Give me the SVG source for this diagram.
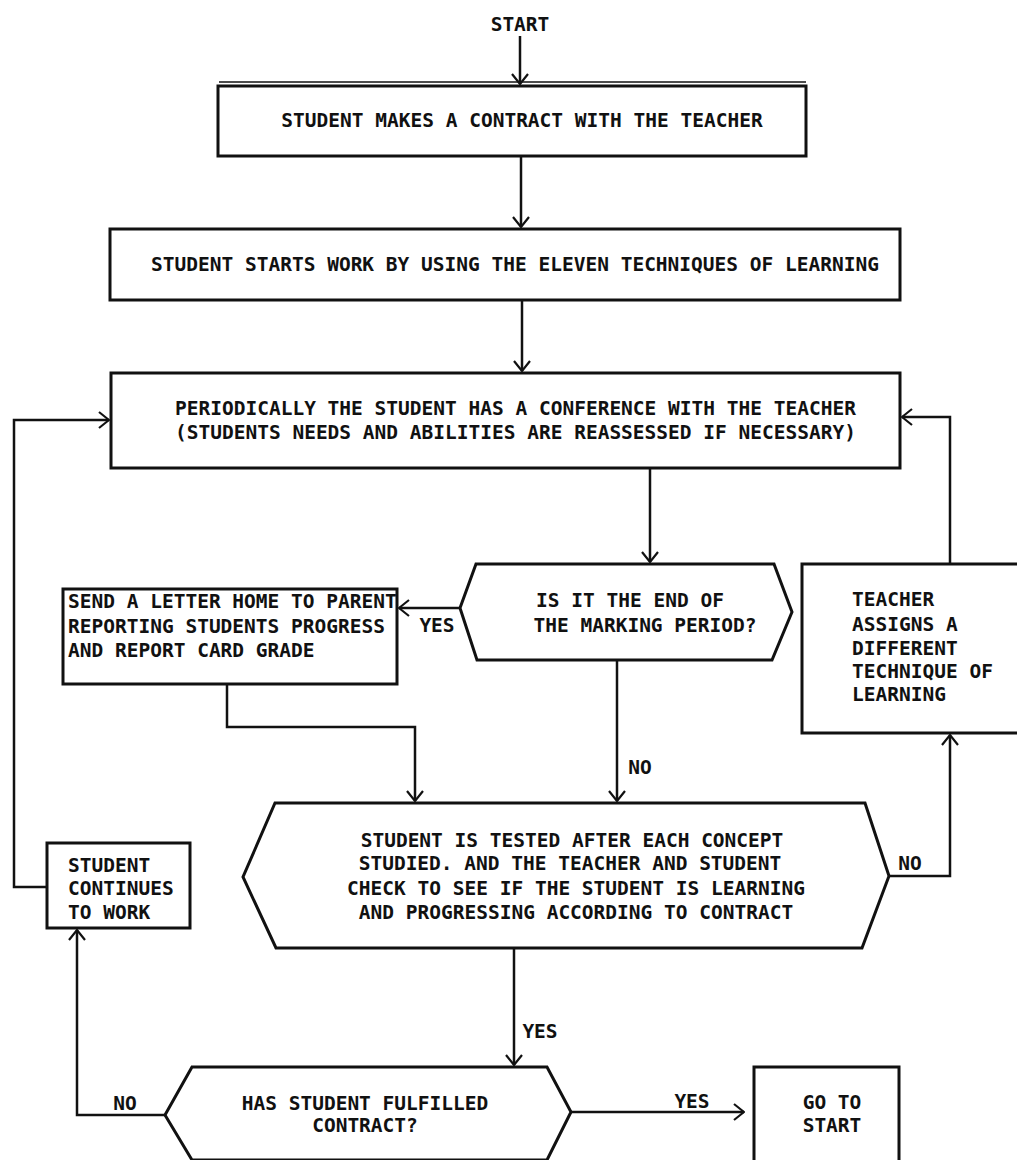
<svg xmlns="http://www.w3.org/2000/svg" width="1017" height="1160" viewBox="0 0 1017 1160">
<defs>
<style>
.t{font-family:"DejaVu Sans Mono","Liberation Mono",monospace;font-weight:bold;font-size:19.5px;fill:#111}
.m{text-anchor:middle}
.b{fill:#fff;stroke:#111;stroke-width:3}
.c{fill:none;stroke:#111;stroke-width:2.5;marker-end:url(#ah)}
</style>
<marker id="ah" viewBox="0 0 12 18" refX="11" refY="9" markerWidth="12" markerHeight="18" markerUnits="userSpaceOnUse" orient="auto">
<path d="M1,1 L11,9 L1,17" fill="none" stroke="#111" stroke-width="2.2"/>
</marker>
</defs>
<rect width="1017" height="1160" fill="#fff"/>
<g id="start"><text class="t m" x="520" y="31">START</text></g>
<g id="contract">
<line x1="219" y1="82" x2="806" y2="82" stroke="#111" stroke-width="1.5"/>
<rect class="b" x="218" y="86" width="588" height="70"/>
<text class="t m" x="522" y="127">STUDENT MAKES A CONTRACT WITH THE TEACHER</text>
</g>
<g id="startwork">
<rect class="b" x="110" y="229" width="790" height="71"/>
<text class="t m" x="515" y="271">STUDENT STARTS WORK BY USING THE ELEVEN TECHNIQUES OF LEARNING</text>
</g>
<g id="conference">
<rect class="b" x="111" y="373" width="789" height="95"/>
<text class="t" x="175" y="415">PERIODICALLY THE STUDENT HAS A CONFERENCE WITH THE TEACHER</text>
<text class="t" x="175" y="439">(STUDENTS NEEDS AND ABILITIES ARE REASSESSED IF NECESSARY)</text>
</g>
<g id="marking">
<polygon class="b" points="476,564 774,564 792,612 772,660 477,660 460,608"/>
<text class="t m" x="630" y="607">IS IT THE END OF</text>
<text class="t m" x="645" y="632">THE MARKING PERIOD?</text>
</g>
<g id="letter">
<rect class="b" x="63" y="589" width="334" height="95"/>
<text class="t" x="68" y="608">SEND A LETTER HOME TO PARENT</text>
<text class="t" x="68" y="633">REPORTING STUDENTS PROGRESS</text>
<text class="t" x="68" y="657">AND REPORT CARD GRADE</text>
</g>
<g id="assign">
<rect class="b" x="802" y="564" width="220" height="169"/>
<text class="t" x="852" y="606">TEACHER</text>
<text class="t" x="852" y="631">ASSIGNS A</text>
<text class="t" x="852" y="655">DIFFERENT</text>
<text class="t" x="852" y="678">TECHNIQUE OF</text>
<text class="t" x="852" y="701">LEARNING</text>
</g>
<g id="tested">
<polygon class="b" points="275,803 865,803 889,876 862,948 276,948 243,877"/>
<text class="t m" x="572" y="847">STUDENT IS TESTED AFTER EACH CONCEPT</text>
<text class="t m" x="570" y="870">STUDIED. AND THE TEACHER AND STUDENT</text>
<text class="t m" x="576" y="895">CHECK TO SEE IF THE STUDENT IS LEARNING</text>
<text class="t m" x="576" y="919">AND PROGRESSING ACCORDING TO CONTRACT</text>
</g>
<g id="continues">
<rect class="b" x="47" y="843" width="143" height="85"/>
<text class="t" x="68" y="872">STUDENT</text>
<text class="t" x="68" y="895">CONTINUES</text>
<text class="t" x="68" y="919">TO WORK</text>
</g>
<g id="fulfilled">
<polygon class="b" points="192,1067 547,1067 571,1112 547,1160 192,1160 165,1115"/>
<text class="t m" x="365" y="1110">HAS STUDENT FULFILLED</text>
<text class="t m" x="365" y="1132">CONTRACT?</text>
</g>
<g id="gotostart">
<rect class="b" x="754" y="1067" width="145" height="96"/>
<text class="t m" x="832" y="1109">GO TO</text>
<text class="t m" x="832" y="1132">START</text>
</g>
<g id="connectors">
<path class="c" d="M520,36 L520,84"/>
<path class="c" d="M521,157 L521,227"/>
<path class="c" d="M522,301 L522,371"/>
<path class="c" d="M650,469 L650,562"/>
<path class="c" d="M460,608 L399,608"/>
<path class="c" d="M227,685 L227,727 L415,727 L415,801"/>
<path class="c" d="M617,661 L617,801"/>
<path class="c" d="M889,876 L950,876 L950,735"/>
<path class="c" d="M950,563 L950,417 L902,417"/>
<path class="c" d="M514,949 L514,1065"/>
<path class="c" d="M165,1115 L77,1115 L77,930"/>
<path class="c" d="M47,887 L14,887 L14,420 L109,420"/>
<path class="c" d="M571,1112 L744,1112"/>
<text class="t m" x="437" y="632">YES</text>
<text class="t m" x="640" y="774">NO</text>
<text class="t m" x="910" y="870">NO</text>
<text class="t m" x="540" y="1038">YES</text>
<text class="t m" x="125" y="1110">NO</text>
<text class="t m" x="692" y="1108">YES</text>
</g>
</svg>
